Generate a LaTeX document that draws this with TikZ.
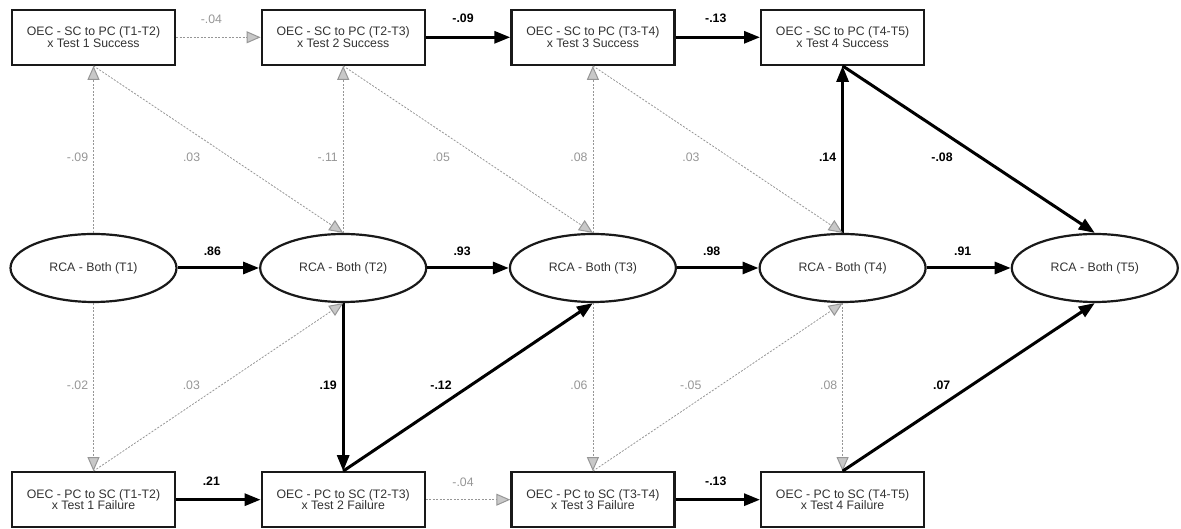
\documentclass[tikz,border=0pt]{standalone}
\usepackage{fontspec}
\setmainfont{Liberation Sans}
\usetikzlibrary{arrows.meta,positioning,shapes.geometric}
\definecolor{inkgray}{RGB}{50,50,50}
\definecolor{faintgray}{RGB}{150,150,150}
\definecolor{tipgray}{RGB}{200,200,200}

\begin{document}
\begin{tikzpicture}[x=1pt,y=1pt,
  rca/.style={ellipse,draw=black!90,line width=2.2pt,minimum width=166pt,minimum height=68pt,
              text=inkgray,font=\fontsize{12.3}{12}\selectfont},
  oec/.style={draw=black!90,line width=2.2pt,minimum width=163pt,minimum height=55pt,
              align=center,text=inkgray,font=\fontsize{12.3}{11.5}\selectfont},
  sig/.style={-{Triangle[length=16pt,width=12pt]},line width=3pt,black},
  ns/.style={-{Triangle[length=14pt,width=12pt,fill=tipgray,line width=1pt]},line width=0.8pt,
             faintgray,dash pattern=on 2pt off 1.5pt},
  slbl/.style={inner sep=0pt,text=black,font=\fontsize{12.3}{12}\selectfont\bfseries},
  nlbl/.style={inner sep=0pt,text=faintgray,font=\fontsize{12.3}{12}\selectfont}]
  \useasboundingbox (0,0) rectangle (1181,529);
  % latent RCA chain
  \node[rca] (r1) at (93.5,261) {RCA - Both (T1)};
  \node[rca,right=81.5pt of r1] (r2) {RCA - Both (T2)};
  \node[rca,right=81.5pt of r2] (r3) {RCA - Both (T3)};
  \node[rca,right=81.5pt of r3] (r4) {RCA - Both (T4)};
  \node[rca,right=84pt of r4] (r5) {RCA - Both (T5)};
  % success row
  \node[oec,above=167pt of r1] (s1) {OEC - SC to PC (T1-T2)\\x Test 1 Success};
  \node[oec,above=167pt of r2] (s2) {OEC - SC to PC (T2-T3)\\x Test 2 Success};
  \node[oec,above=167pt of r3] (s3) {OEC - SC to PC (T3-T4)\\x Test 3 Success};
  \node[oec,above=167pt of r4] (s4) {OEC - SC to PC (T4-T5)\\x Test 4 Success};
  % failure row
  \node[oec,below=168pt of r1] (f1) {OEC - PC to SC (T1-T2)\\x Test 1 Failure};
  \node[oec,below=168pt of r2] (f2) {OEC - PC to SC (T2-T3)\\x Test 2 Failure};
  \node[oec,below=168pt of r3] (f3) {OEC - PC to SC (T3-T4)\\x Test 3 Failure};
  \node[oec,below=168pt of r4] (f4) {OEC - PC to SC (T4-T5)\\x Test 4 Failure};

  \draw[sig] (r1) -- node[slbl,above=11pt,xshift=-6pt] {.86} (r2);
  \draw[sig] (r2) -- node[slbl,above=11pt,xshift=-6pt] {.93} (r3);
  \draw[sig] (r3) -- node[slbl,above=11pt,xshift=-6pt] {.98} (r4);
  \draw[sig] (r4) -- node[slbl,above=11pt,xshift=-6pt] {.91} (r5);

  \draw[ns] (s1) -- node[nlbl,above=13pt,xshift=-7pt] {-.04} (s2);
  \draw[sig] (s2) -- node[slbl,above=13pt,xshift=-5pt] {-.09} (s3);
  \draw[sig] (s3) -- node[slbl,above=13pt,xshift=-2pt] {-.13} (s4);
  \draw[sig] (f1) -- node[slbl,above=13pt,xshift=-7pt] {.21} (f2);
  \draw[ns] (f2) -- node[nlbl,above=13pt,xshift=-5pt] {-.04} (f3);
  \draw[sig] (f3) -- node[slbl,above=13pt,xshift=-2pt] {-.13} (f4);

  % RCA to success
  \draw[ns] (r1) -- node[nlbl,pos=.455,left=5pt] {-.09} (s1);
  \draw[ns] (r2) -- node[nlbl,pos=.455,left=5pt] {-.11} (s2);
  \draw[ns] (r3) -- node[nlbl,pos=.455,left=5pt] {.08} (s3);
  \draw[sig] (r4) -- node[slbl,pos=.455,left=5pt] {.14} (s4);
  \draw[ns] (s1.south) -- node[nlbl,pos=.545,xshift=-38pt] {.03} (r2.north);
  \draw[ns] (s2.south) -- node[nlbl,pos=.545,xshift=-38pt] {.05} (r3.north);
  \draw[ns] (s3.south) -- node[nlbl,pos=.545,xshift=-38pt] {.03} (r4.north);
  \draw[sig] (s4.south) -- node[slbl,pos=.545,xshift=-38pt] {-.08} (r5.north);

  % RCA to failure
  \draw[ns] (r1) -- node[nlbl,pos=.49,left=5pt] {-.02} (f1);
  \draw[sig] (r2) -- node[slbl,pos=.49,left=5pt] {.19} (f2);
  \draw[ns] (r3) -- node[nlbl,pos=.49,left=5pt] {.06} (f3);
  \draw[ns] (r4) -- node[nlbl,pos=.49,left=5pt] {.08} (f4);
  \draw[ns] (f1.north) -- node[nlbl,pos=.512,xshift=-30pt] {.03} (r2.south);
  \draw[sig] (f2.north) -- node[slbl,pos=.512,xshift=-30pt] {-.12} (r3.south);
  \draw[ns] (f3.north) -- node[nlbl,pos=.512,xshift=-30pt] {-.05} (r4.south);
  \draw[sig] (f4.north) -- node[slbl,pos=.512,xshift=-30pt] {.07} (r5.south);
\end{tikzpicture}
\end{document}
